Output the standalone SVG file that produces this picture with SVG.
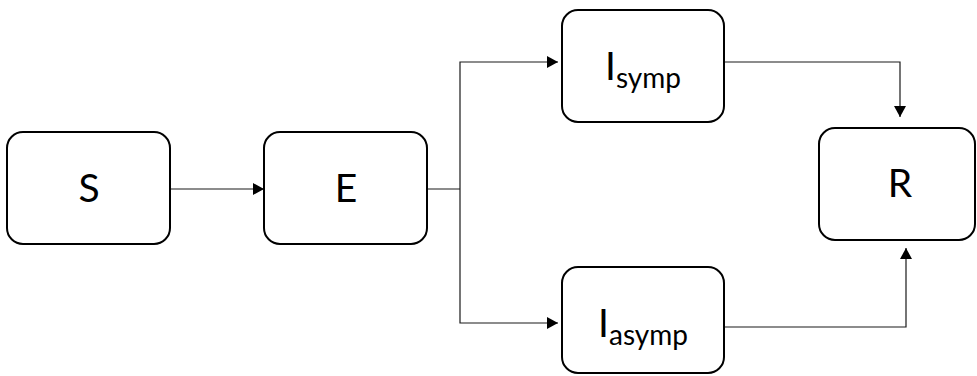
<svg xmlns="http://www.w3.org/2000/svg" width="977" height="376" viewBox="0 0 977 376">
  <style>
    .box { fill: #ffffff; stroke: #000000; stroke-width: 2; }
    .label { font-family: Lato, "Open Sans", "Liberation Sans", sans-serif; font-size: 39px; fill: #000000; text-anchor: middle; }
    .sub { font-size: 28px; }
    .wire { fill: none; stroke: #1a1a1a; stroke-width: 1.2; }
  </style>
  <defs>
    <marker id="arrow" markerUnits="userSpaceOnUse" markerWidth="12" markerHeight="12" refX="11" refY="6" orient="auto">
      <path d="M0,0 L11,6 L0,12 z" fill="#000000"/>
    </marker>
  </defs>
  <rect width="977" height="376" fill="#ffffff"/>

  <g id="connectors">
    <path class="wire" d="M170 189 H264" marker-end="url(#arrow)"/>
    <path class="wire" d="M427 189 H460"/>
    <path class="wire" d="M460 189 V62 H558" marker-end="url(#arrow)"/>
    <path class="wire" d="M460 189 V323 H558" marker-end="url(#arrow)"/>
    <path class="wire" d="M724 62 H900 V117" marker-end="url(#arrow)"/>
    <path class="wire" d="M724 327 H906 V248" marker-end="url(#arrow)"/>
  </g>

  <g id="node-S">
    <rect class="box" x="7" y="132" width="163" height="112" rx="16"/>
    <text class="label" x="89" y="202">S</text>
  </g>

  <g id="node-E">
    <rect class="box" x="264" y="132" width="163" height="112" rx="16"/>
    <text class="label" x="346" y="202">E</text>
  </g>

  <g id="node-Isymp">
    <rect class="box" x="562" y="10" width="162" height="112" rx="16"/>
    <text class="label" x="643" y="80">I<tspan class="sub" dy="8">symp</tspan></text>
  </g>

  <g id="node-Iasymp">
    <rect class="box" x="562" y="267" width="162" height="106" rx="16"/>
    <text class="label" x="643" y="337">I<tspan class="sub" dy="8">asymp</tspan></text>
  </g>

  <g id="node-R">
    <rect class="box" x="819" y="128" width="156" height="112" rx="16"/>
    <text class="label" x="900" y="197">R</text>
  </g>
</svg>
